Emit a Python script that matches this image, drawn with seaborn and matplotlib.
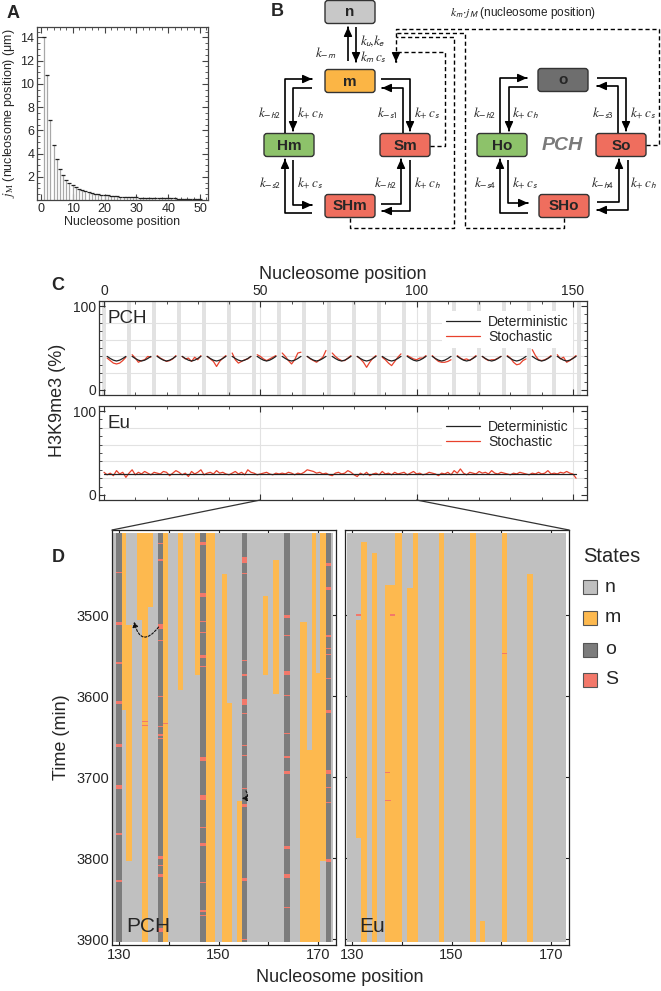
import numpy as np
import pandas as pd
import matplotlib
matplotlib.use("Agg")
import matplotlib.pyplot as plt
import seaborn as sns
from matplotlib.patches import FancyBboxPatch, Rectangle, ConnectionPatch, FancyArrowPatch
from matplotlib.lines import Line2D
from matplotlib.ticker import MultipleLocator

sns.set_style("ticks")
plt.rcParams['font.family'] = ['Liberation Sans', 'DejaVu Sans']
plt.rcParams['mathtext.fontset'] = 'stix'

# ---------------- data ----------------
# A: j_M profile
jm_pos = list(range(1, 51))
jm_val = [14.0, 10.8, 6.9, 4.75, 3.5, 2.7, 2.15, 1.75, 1.47, 1.25,
          1.08, 0.95, 0.84, 0.75, 0.67, 0.61, 0.55, 0.50, 0.46, 0.42,
          0.39, 0.36, 0.34, 0.32, 0.30, 0.28, 0.26, 0.25, 0.23, 0.22,
          0.21, 0.20, 0.19, 0.18, 0.17, 0.165, 0.16, 0.15, 0.145, 0.14,
          0.135, 0.13, 0.125, 0.12, 0.115, 0.11, 0.107, 0.104, 0.10, 0.097]

# C: PCH (o nucleosomes every 8th position, curves between them)
pch_o_pos = [0, 8, 16, 24, 32, 40, 48, 56, 64, 72, 80, 88, 96, 104, 112, 120, 128, 136, 144, 152]
pch_det_profile = [40, 37.5, 35.5, 34.5, 35.5, 37.5, 40]
pch_stoch = [
    [38, 35, 32, 31, 32, 35, 39], [42, 38, 33, 35, 36, 40, 39], [41, 38, 36, 34, 35, 37, 41],
    [40, 37, 38, 34, 39, 36, 41], [40, 37, 34, 28, 34, 38, 41], [44, 36, 32, 34, 36, 37, 40],
    [42, 40, 37, 35, 37, 39, 41], [44, 40, 35, 31, 36, 44, 45], [40, 37, 35, 33, 36, 39, 47],
    [44, 40, 37, 35, 35, 38, 41], [40, 37, 33, 27, 33, 38, 41], [39, 36, 32, 29, 34, 39, 43],
    [41, 39, 37, 36, 38, 38, 41], [41, 37, 34, 33, 33, 34, 36], [41, 38, 36, 37, 35, 38, 41],
    [40, 37, 35, 36, 36, 38, 40], [41, 38, 33, 30, 31, 35, 37], [48, 41, 36, 35, 36, 38, 41],
    [42, 37, 39, 33, 35, 38, 41],
]
# C: Eu
eu_pos = list(range(0, 152))
eu_det = [25] * 152
eu_stoch = [27, 24, 26, 23, 29, 25, 27, 21, 26, 30, 24, 27, 25, 28, 26, 24, 27, 26, 25,
            28, 27, 23, 26, 29, 27, 24, 26, 22, 28, 25, 27, 30, 24, 26, 27, 25, 29, 26,
            27, 25, 24, 26, 28, 25, 27, 24, 30, 27, 26, 24, 25, 26, 27, 25, 24, 26, 25,
            26, 25, 27, 26, 24, 26, 25, 27, 30, 29, 28, 26, 27, 25, 26, 24, 23, 26, 27,
            25, 26, 29, 27, 24, 22, 26, 24, 27, 23, 25, 26, 24, 28, 25, 26, 24, 27, 25,
            26, 27, 24, 26, 28, 25, 26, 24, 25, 27, 26, 25, 23, 26, 25, 27, 24, 29, 26,
            31, 26, 24, 27, 26, 25, 28, 26, 27, 25, 29, 26, 25, 27, 26, 25, 24, 26, 25,
            27, 26, 25, 24, 26, 25, 27, 25, 26, 29, 25, 26, 25, 27, 26, 28, 26, 25, 20]

# D: state kymographs (column span left/right, time start/end)
t_first, t_last = 3399, 3903
pch_cells = (128.85, 173.07)
pch_o_cols = [(129.4, 130.54), (137.78, 138.9), (146.28, 147.49),
              (154.66, 155.79), (163.17, 164.37), (171.61, 172.67)]
pch_m_runs = [
    (130.54, 131.41, 3399, 3617), (131.41, 132.55, 3512, 3803), (133.55, 134.56, 3399, 3506),
    (134.56, 135.89, 3399, 3903), (135.89, 136.90, 3399, 3490), (138.90, 139.91, 3399, 3903),
    (141.92, 142.92, 3399, 3593), (145.28, 146.28, 3399, 3574), (147.49, 149.30, 3399, 3903),
    (150.64, 151.65, 3449, 3903), (151.65, 152.65, 3609, 3903), (153.66, 154.66, 3729, 3903),
    (159.01, 160.01, 3476, 3574), (161.02, 162.16, 3432, 3597), (166.38, 167.73, 3509, 3903),
    (167.73, 168.73, 3667, 3903), (168.73, 169.60, 3399, 3903), (169.60, 170.40, 3572, 3903),
    (170.40, 171.61, 3399, 3803),
]
# S marks on each o column: (time, thickness in min)
pch_o_s = [
    [(3447, 1.5), (3510, 4), (3559, 1.5), (3608, 4), (3661, 4), (3712, 4), (3770, 1.5), (3828, 1.5)],
    [(3412, 1.5), (3432, 1.5), (3514, 6), (3531, 1.5), (3600, 1.5), (3637, 1.5), (3648, 1.5),
     (3652, 1.5), (3799, 4), (3809, 1.5), (3821, 4), (3889, 5)],
    [(3412, 4), (3475, 5), (3508, 1.5), (3521, 1.5), (3551, 3), (3563, 1.5), (3678, 5), (3725, 7),
     (3762, 1.5), (3783, 3), (3830, 1.5), (3865, 1.5), (3871, 1.5)],
    [(3432, 7), (3449, 1.5), (3556, 1.5), (3574, 1.5), (3607, 8), (3621, 1.5), (3661, 1.5),
     (3673, 1.5), (3714, 1.5), (3735, 4), (3826, 4), (3900, 1.5)],
    [(3502, 4), (3525, 1.5), (3572, 5), (3599, 1.5), (3646, 1.5), (3675, 1.5), (3694, 4),
     (3787, 4), (3822, 4), (3861, 1.5)],
    [(3438, 4), (3467, 4), (3526, 3), (3541, 1.5), (3549, 1.5), (3578, 1.5), (3619, 3), (3694, 5),
     (3713, 1.5), (3731, 1.5), (3803, 4)],
]
pch_s_extra = [(134.56, 135.89, 3631, 1.5), (134.56, 135.89, 3636, 1.5), (138.9, 139.91, 3634, 1.5)]

eu_cells = (129.0, 173.0)
eu_m_runs = [
    (130.8, 131.8, 3506, 3775), (131.8, 132.95, 3410, 3903), (133.96, 134.96, 3423, 3903),
    (136.6, 138.65, 3463, 3903), (138.65, 140.05, 3399, 3903), (141.1, 142.3, 3467, 3903),
    (142.3, 143.3, 3399, 3903), (147.4, 148.5, 3399, 3903), (153.7, 154.9, 3399, 3903),
    (155.7, 156.7, 3877, 3903), (160.15, 161.15, 3399, 3903), (165.2, 166.4, 3449, 3903),
]
eu_s_marks = [(137.6, 138.65, 3500, 1.5), (160.15, 161.15, 3547, 1.5), (136.6, 137.6, 3694, 1.5),
              (136.6, 137.8, 3729, 1.5), (130.8, 131.8, 3500, 1.5)]

state_names = ['n', 'm', 'o', 'S']
state_colors = ['#c0c0c0', '#fdb94f', '#7c7c7c', '#f3786a']

# ---------------- figure ----------------
W, H = 661, 991
fig = plt.figure(figsize=(W / 100, H / 100), dpi=100)


def px_axes(x0, y0, x1, y1):
    return fig.add_axes([x0 / W, 1 - y1 / H, (x1 - x0) / W, (y1 - y0) / H])


def frame(ax, color='#333333'):
    for s in ax.spines.values():
        s.set_color(color)
        s.set_linewidth(0.9)
    ax.tick_params(which='both', direction='in', top=True, right=True, color=color)
    ax.tick_params(which='major', length=4, width=0.8, pad=2)
    ax.tick_params(which='minor', length=2, width=0.6)


ax0 = px_axes(0, 0, W, H)
ax0.set_xlim(0, W)
ax0.set_ylim(H, 0)
ax0.axis('off')

for letter, (lx, ly) in {'A': (13, 13), 'B': (277, 12), 'C': (58, 285), 'D': (58, 558)}.items():
    ax0.text(lx, ly, letter, fontsize=13, weight='bold', ha='center', va='center')

# ---------------- A ----------------
axA = px_axes(37, 27, 208, 200)
axA.vlines(jm_pos, 0, jm_val, color='#a8a8a8', lw=0.9)
axA.plot(jm_pos, jm_val, ls='none', marker='_', ms=2.5, mew=0.9, color='#222222')
axA.set_xlim(-1.2, 52.5)
axA.set_ylim(0, 14.9)
axA.set_xticks(range(0, 51, 10))
axA.set_yticks(range(2, 15, 2))
axA.xaxis.set_minor_locator(MultipleLocator(2))
axA.yaxis.set_minor_locator(MultipleLocator(0.5))
frame(axA, '#444444')
axA.tick_params(labelsize=9)
axA.set_xlabel('Nucleosome position', fontsize=9, labelpad=1)
axA.set_ylabel(r'$j_{\mathrm{M}}$ (nucleosome position) (μm)', fontsize=9, labelpad=2)

# ---------------- B (scheme) ----------------
boxes = {'n': (350, 12, '#c8c8c8'), 'm': (350, 81, '#fbb545'), 'Hm': (289, 145, '#8dc26a'),
         'Sm': (405, 145, '#ef6e5e'), 'SHm': (350, 206, '#ef6e5e'), 'o': (563, 80, '#6e6e6e'),
         'Ho': (502, 145, '#8dc26a'), 'So': (621, 145, '#ef6e5e'), 'SHo': (564, 206, '#ef6e5e')}
for name, (cx, cy, col) in boxes.items():
    ax0.add_patch(FancyBboxPatch((cx - 25, cy - 11.5), 50, 23,
                                 boxstyle='round,pad=0,rounding_size=3',
                                 facecolor=col, edgecolor='#333333', lw=1))
    ax0.text(cx, cy + 0.5, name, fontsize=11, weight='bold', ha='center', va='center')


def path_arrow(pts, dashed=False):
    xs, ys = zip(*pts)
    ls = (0, (3, 2)) if dashed else '-'
    ax0.plot(xs, ys, color='k', lw=1.0 if dashed else 1.2, ls=ls, solid_capstyle='butt')
    (x1, y1), (x2, y2) = pts[-2], pts[-1]
    ax0.annotate('', xy=(x2, y2), xytext=(x2 - 0.01 * (x2 - x1), y2 - 0.01 * (y2 - y1)),
                 arrowprops=dict(arrowstyle='-|>,head_length=0.55,head_width=0.25',
                                 color='k', lw=1.0, shrinkA=0, shrinkB=0))


solid_paths = [
    [(348, 61), (348, 27)], [(356, 27), (356, 62)],
    [(285, 133), (285, 79), (312, 79)], [(312, 88), (293, 88), (293, 131)],
    [(381, 79), (410, 79), (410, 131)], [(403, 133), (403, 88), (382, 88)],
    [(312, 213), (285, 213), (285, 159)], [(293, 160), (293, 205), (312, 205)],
    [(381, 204), (401, 204), (401, 159)], [(410, 160), (410, 211), (382, 211)],
    [(500, 133), (500, 78), (527, 78)], [(528, 87), (509, 87), (509, 131)],
    [(597, 78), (626, 78), (626, 131)], [(618, 133), (618, 86), (597, 86)],
    [(528, 213), (500, 213), (500, 159)], [(508, 160), (508, 203), (528, 203)],
    [(597, 202), (619, 202), (619, 159)], [(628, 160), (628, 210), (597, 210)],
]
for p in solid_paths:
    path_arrow(p)

path_arrow([(430, 146), (445, 146), (445, 52), (396, 52), (396, 62)], dashed=True)
for p in [[(350, 218), (350, 228), (454, 228), (454, 37), (396, 37)],
          [(564, 218), (564, 228), (465, 228), (465, 33), (396, 33)],
          [(646, 145), (659, 145), (659, 29), (396, 29), (396, 52)]]:
    xs, ys = zip(*p)
    ax0.plot(xs, ys, color='k', lw=1.0, ls=(0, (3, 2)))

rate_labels = [
    (336, 53, r'$k_{\mathsf{-m}}$', 'right'), (360, 41, r'$k_{\mathsf{u}}\!,\!k_{\mathsf{e}}$', 'left'),
    (360, 57, r'$k_{\mathsf{m}}\,c_{\mathsf{s}}$', 'left'),
    (281, 113, r'$k_{\mathsf{-h2}}$', 'right'), (297, 113, r'$k_{+}\,c_{\mathsf{h}}$', 'left'),
    (398, 113, r'$k_{\mathsf{-s1}}$', 'right'), (414, 113, r'$k_{+}\,c_{\mathsf{s}}$', 'left'),
    (281, 183, r'$k_{\mathsf{-s2}}$', 'right'), (297, 183, r'$k_{+}\,c_{\mathsf{s}}$', 'left'),
    (397, 183, r'$k_{\mathsf{-h2}}$', 'right'), (414, 183, r'$k_{+}\,c_{\mathsf{h}}$', 'left'),
    (496, 113, r'$k_{\mathsf{-h2}}$', 'right'), (512, 113, r'$k_{+}\,c_{\mathsf{h}}$', 'left'),
    (614, 113, r'$k_{\mathsf{-s3}}$', 'right'), (630, 113, r'$k_{+}\,c_{\mathsf{s}}$', 'left'),
    (496, 183, r'$k_{\mathsf{-s4}}$', 'right'), (512, 183, r'$k_{+}\,c_{\mathsf{s}}$', 'left'),
    (614, 183, r'$k_{\mathsf{-h4}}$', 'right'), (630, 183, r'$k_{+}\,c_{\mathsf{h}}$', 'left'),
]
for x, y, s, ha in rate_labels:
    ax0.text(x, y, s, fontsize=9.5, ha=ha, va='center')
ax0.text(450, 13, r'$k_{\mathsf{m}}\!\cdot\!j_{\mathsf{M}}$ (nucleosome position)', fontsize=8.5,
         ha='left', va='center', color='#222222')
ax0.text(562, 145, 'PCH', fontsize=14, weight='bold', style='italic', color='#7a7a7a',
         ha='center', va='center')

# ---------------- C ----------------
red, black = '#e8412c', '#222222'
rows = []
for k, p0 in enumerate(pch_o_pos[:-1]):
    for j in range(7):
        rows.append(dict(pos=p0 + 1 + j, seg=k, kind='Deterministic', val=pch_det_profile[j]))
        rows.append(dict(pos=p0 + 1 + j, seg=k, kind='Stochastic', val=pch_stoch[k][j]))
df_pch = pd.DataFrame(rows)
df_eu = pd.concat([pd.DataFrame(dict(pos=eu_pos, val=eu_det, kind='Deterministic', seg=0)),
                   pd.DataFrame(dict(pos=eu_pos, val=eu_stoch, kind='Stochastic', seg=0))])

axC1 = px_axes(99, 301, 587, 395)
axC2 = px_axes(99, 406, 587, 500)
for ax, df, name in [(axC1, df_pch, 'PCH'), (axC2, df_eu, 'Eu')]:
    ax.set_xlim(-1.6, 154.5)
    ax.set_ylim(-6, 106)
    for g in [20, 40, 60, 80]:
        ax.axhline(g, color='#e2e2e2', lw=0.8, zorder=0)
    for g in [50, 100, 150]:
        ax.axvline(g, color='#e2e2e2', lw=0.8, zorder=0)
    if name == 'PCH':
        for p in pch_o_pos:
            ax.axvspan(p - 0.6, p + 0.6, color='#e2e2e2', lw=0, zorder=0)
    sns.lineplot(data=df[df.kind == 'Stochastic'], x='pos', y='val', units='seg', estimator=None,
                 color=red, lw=0.9, ax=ax, sort=True)
    sns.lineplot(data=df[df.kind == 'Deterministic'], x='pos', y='val', units='seg', estimator=None,
                 color=black, lw=0.9, ax=ax, sort=True)
    ax.set_xlabel('')
    ax.set_ylabel('')
    ax.set_xticks([0, 50, 100, 150])
    ax.xaxis.set_minor_locator(MultipleLocator(10))
    ax.set_yticks([0, 100])
    ax.yaxis.set_minor_locator(MultipleLocator(10))
    frame(ax)
    ax.tick_params(labelsize=10, labelbottom=False)
    ax.text(0.018, 0.81, name, transform=ax.transAxes, fontsize=13.5, ha='left', va='center')
    handles = [Line2D([], [], color=black, lw=0.9), Line2D([], [], color=red, lw=0.9)]
    leg = ax.legend(handles, ['Deterministic', 'Stochastic'], loc='upper right',
                    bbox_to_anchor=(0.985, 0.97), fontsize=10, frameon=True, facecolor='white',
                    edgecolor='none', framealpha=1, handlelength=2.4, labelspacing=0.05,
                    borderpad=0.3, handletextpad=0.6)
    leg.set_zorder(5)

axC1.tick_params(labeltop=True)
axC1.xaxis.set_label_position('top')
axC1.set_xlabel('Nucleosome position', fontsize=13, labelpad=4)
ax0.text(57, 400, 'H3K9me3 (%)', fontsize=13, rotation=90, ha='center', va='center')

# ---------------- D ----------------
axDl = px_axes(112, 530, 336, 945)
axDr = px_axes(345, 530, 569, 945)


def draw_runs(ax, runs, color):
    if not runs:
        return
    l, r, t0, t1 = zip(*runs)
    ax.bar([(a + b) / 2 for a, b in zip(l, r)], [b - a for a, b in zip(t0, t1)],
           width=[b - a for a, b in zip(l, r)], bottom=t0, color=color, lw=0, align='center')


def marks_to_runs(marks):
    return [(l, r, t - h / 2, t + h / 2) for l, r, t, h in marks]


pch_s_runs = []
for (l, r), marks in zip(pch_o_cols, pch_o_s):
    pch_s_runs += [(l, r, t, h) for t, h in marks]
pch_s_runs += pch_s_extra

draw_runs(axDl, [(pch_cells[0], pch_cells[1], t_first, t_last)], state_colors[0])
draw_runs(axDl, [(l, r, t_first, t_last) for l, r in pch_o_cols], state_colors[2])
draw_runs(axDl, pch_m_runs, state_colors[1])
draw_runs(axDl, marks_to_runs(pch_s_runs), state_colors[3])

draw_runs(axDr, [(eu_cells[0], eu_cells[1], t_first, t_last)], state_colors[0])
draw_runs(axDr, eu_m_runs, state_colors[1])
draw_runs(axDr, marks_to_runs(eu_s_marks), state_colors[3])

for ax, name in [(axDl, 'PCH'), (axDr, 'Eu')]:
    ax.set_facecolor('white')
    ax.set_xlim(128.6, 173.6)
    ax.set_ylim(3907, 3395)
    ax.set_xticks([130, 150, 170])
    ax.set_xticks([140, 160], minor=True)
    ax.set_yticks([3500, 3600, 3700, 3800, 3900])
    frame(ax, '#222222')
    ax.tick_params(which='minor', length=4, width=0.8)
    ax.tick_params(labelsize=10.5)
    ax.text(131.5, 3884, name, fontsize=15, ha='left', va='center')
axDr.tick_params(labelleft=False)

for xyA, xyB, axB in [((50, -6), (0, 1), axDl), ((100, -6), (1, 1), axDr)]:
    con = ConnectionPatch(xyA=xyA, coordsA=axC2.transData, xyB=xyB, coordsB=axB.transAxes,
                          color='#333333', lw=0.9)
    fig.add_artist(con)

for posA, posB in [((138.3, 3512), (132.9, 3505)), ((155.2, 3714), (154.1, 3726))]:
    axDl.add_patch(FancyArrowPatch(posA, posB, connectionstyle='arc3,rad=-1.1',
                                   arrowstyle='-|>,head_length=3,head_width=1.6',
                                   ls=(0, (2, 1.5)), lw=0.8, color='#111111'))

ax0.text(62, 737, 'Time (min)', fontsize=13, rotation=90, ha='center', va='center')
ax0.text(340, 978, 'Nucleosome position', fontsize=13, ha='center', va='center')

# States legend
ax0.text(583, 557, 'States', fontsize=14.5, ha='left', va='center')
for i, (nm, col) in enumerate(zip(state_names, state_colors)):
    yc = [587, 618, 650, 680][i]
    ax0.add_patch(Rectangle((583, yc - 7), 14, 14, facecolor=col, edgecolor='#555555', lw=0.8))
    ax0.text(605, yc, nm, fontsize=14, ha='left', va='center')

fig.savefig('out.png', dpi=100)
